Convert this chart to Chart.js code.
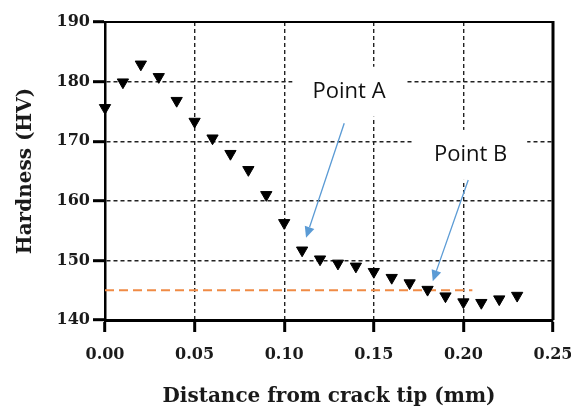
<!DOCTYPE html>
<html>
<head>
<meta charset="utf-8">
<script src="https://cdn.jsdelivr.net/npm/chart.js@4.4.1/dist/chart.umd.min.js"></script>
<style>
  html, body { margin: 0; padding: 0; background: #fff; }
</style>
</head>
<body>
<canvas id="hvChart" width="571" height="410"></canvas>
<script>
// distance from crack tip (mm)
const distance = [0.00, 0.01, 0.02, 0.03, 0.04, 0.05, 0.06, 0.07, 0.08, 0.09, 0.10, 0.11,
                  0.12, 0.13, 0.14, 0.15, 0.16, 0.17, 0.18, 0.19, 0.20, 0.21, 0.22, 0.23];
// hardness (HV)
const hardness = [175.6, 179.9, 182.9, 180.8, 176.8, 173.3, 170.5, 167.9, 165.2, 161.0, 156.3, 151.7,
                  150.2, 149.5, 149.0, 148.1, 147.1, 146.2, 145.1, 144.0, 143.0, 142.9, 143.5, 144.1];
// orange reference level
const refX = [0, 0.205];
const refY = [145, 145];

const xTicks = [0, 0.05, 0.10, 0.15, 0.20, 0.25];
const yTicks = [140, 150, 160, 170, 180, 190];

// text labels and arrows, in data units
const notes = [
  { text: "Point A", at: [0.1362, 178.3], from: [0.1335, 173.0], to: [0.1122, 153.8] },
  { text: "Point B", at: [0.2040, 167.7], from: [0.2027, 163.5], to: [0.1829, 146.5] }
];

const serif = "'DejaVu Serif', serif";

// white boxes behind the labels + blue arrows, then top/right frame
const notesPlugin = {
  id: "notes",
  beforeDatasetsDraw(chart) {
    const { ctx } = chart;
    const x = chart.scales.x, y = chart.scales.y;
    ctx.save();
    ctx.font = "22px 'Open Sans'";
    notes.forEach((n) => {
      const cx = x.getPixelForValue(n.at[0]);
      const cy = y.getPixelForValue(n.at[1]);
      const w = ctx.measureText(n.text).width + 40;
      ctx.fillStyle = "#fff";
      ctx.fillRect(cx - w / 2, cy - 25, w, 50);
      ctx.fillStyle = "#111";
      ctx.textAlign = "center";
      ctx.textBaseline = "middle";
      ctx.fillText(n.text, cx, cy);

      // arrow
      const x1 = x.getPixelForValue(n.from[0]), y1 = y.getPixelForValue(n.from[1]);
      const x2 = x.getPixelForValue(n.to[0]), y2 = y.getPixelForValue(n.to[1]);
      const ang = Math.atan2(y2 - y1, x2 - x1);
      const len = 11, half = 5;
      const bx = x2 - len * Math.cos(ang), by = y2 - len * Math.sin(ang);
      ctx.strokeStyle = "#5B9BD5";
      ctx.fillStyle = "#5B9BD5";
      ctx.lineWidth = 1.3;
      ctx.beginPath();
      ctx.moveTo(x1, y1);
      ctx.lineTo(bx, by);
      ctx.stroke();
      ctx.beginPath();
      ctx.moveTo(x2, y2);
      ctx.lineTo(bx + half * Math.sin(ang), by - half * Math.cos(ang));
      ctx.lineTo(bx - half * Math.sin(ang), by + half * Math.cos(ang));
      ctx.closePath();
      ctx.fill();
    });
    ctx.restore();
  },
  afterDraw(chart) {
    const { ctx, chartArea: a } = chart;
    ctx.save();
    ctx.strokeStyle = "#000";
    ctx.lineWidth = 2;
    ctx.beginPath();
    ctx.moveTo(a.left, a.top);
    ctx.lineTo(a.right, a.top);
    ctx.stroke();
    ctx.lineWidth = 3;
    ctx.beginPath();
    ctx.moveTo(a.right, a.top - 1);
    ctx.lineTo(a.right, a.bottom);
    ctx.stroke();
    ctx.restore();
  }
};

const ctx = document.getElementById("hvChart").getContext("2d");
new Chart(ctx, {
  type: "scatter",
  data: {
    datasets: [
      {
        label: "Hardness",
        data: distance.map((d, i) => ({ x: d, y: hardness[i] })),
        pointStyle: "triangle",
        rotation: 180,
        radius: 6.5,
        backgroundColor: "#000",
        borderColor: "#000",
        borderWidth: 1,
        clip: false,
        order: 0
      },
      {
        label: "Reference",
        data: refX.map((d, i) => ({ x: d, y: refY[i] })),
        showLine: true,
        borderColor: "#F08B45",
        borderWidth: 2,
        borderDash: [9, 5],
        pointRadius: 0,
        order: 1
      }
    ]
  },
  options: {
    responsive: false,
    animation: false,
    layout: { padding: { top: 22, right: 18, bottom: 0, left: 0 } },
    plugins: {
      legend: { display: false },
      tooltip: { enabled: false }
    },
    scales: {
      x: {
        type: "linear",
        min: 0,
        max: 0.25,
        afterBuildTicks: (s) => { s.ticks = xTicks.map((v) => ({ value: v })); },
        afterFit: (s) => { s.height = 90; s.paddingLeft = 0; s.paddingRight = 0; },
        ticks: {
          callback: (v) => v.toFixed(2),
          font: { family: serif, weight: "bold", size: 16 },
          color: "#1a1a1a",
          padding: 13,
          maxRotation: 0,
          autoSkip: false
        },
        grid: { color: "#222", lineWidth: 1.4, tickColor: "#000", tickLength: 12, tickWidth: 3 },
        border: { color: "#000", width: 3, dash: [4, 3] },
        title: {
          display: true,
          text: "Distance from crack tip (mm)",
          font: { family: serif, weight: "bold", size: 20 },
          color: "#1a1a1a",
          padding: { top: 0, bottom: 1 }
        }
      },
      y: {
        min: 140,
        max: 190,
        afterBuildTicks: (s) => { s.ticks = yTicks.map((v) => ({ value: v })); },
        afterFit: (s) => { s.width = 105; },
        ticks: {
          font: { family: serif, weight: "bold", size: 16 },
          color: "#1a1a1a",
          padding: 3
        },
        grid: { color: "#222", lineWidth: 1.4, tickColor: "#000", tickLength: 12, tickWidth: 3 },
        border: { color: "#000", width: 2.5, dash: [4, 3] },
        title: {
          display: true,
          text: "Hardness (HV)",
          font: { family: serif, weight: "bold", size: 20 },
          color: "#1a1a1a",
          padding: { top: 14, bottom: 0 }
        }
      }
    }
  },
  plugins: [notesPlugin]
});
</script>
</body>
</html>
